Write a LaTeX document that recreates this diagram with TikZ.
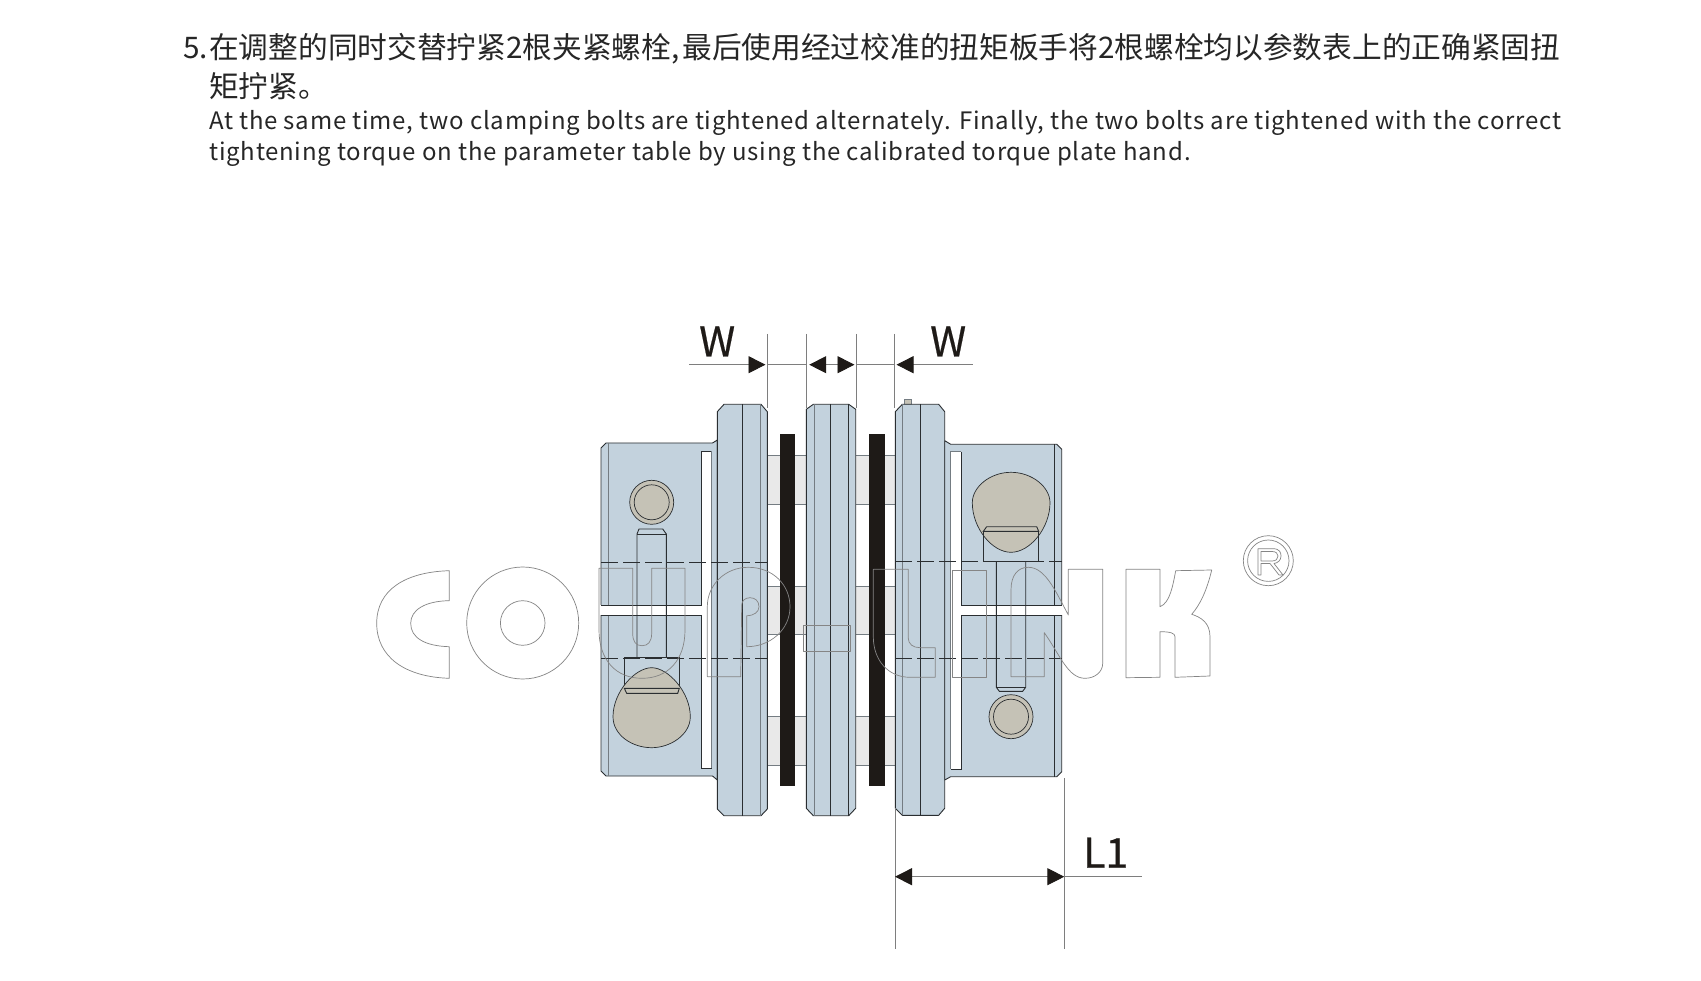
\documentclass[tikz,border=0pt]{standalone}
\usepackage{fontspec}
\setmainfont{Noto Sans CJK SC}
\newfontfamily\enfont[LetterSpace=3.2]{Noto Sans CJK SC}
\newfontfamily\dimfont[FakeBold=0.5]{Noto Sans CJK SC}
\usetikzlibrary{arrows.meta}
\definecolor{steelfill}{HTML}{C3D2DD}
\definecolor{boltfill}{HTML}{C5C2B6}
\definecolor{inkline}{HTML}{2A2E31}
\definecolor{midline}{HTML}{747C82}
\definecolor{diskfill}{HTML}{1E1A17}
\definecolor{barfill}{HTML}{E9E9E9}
\definecolor{markline}{HTML}{858585}
\definecolor{dimline}{HTML}{7E7E7E}
\tikzset{
  part/.style={fill=steelfill,draw=inkline,line width=.9pt,line join=round},
  ink/.style={draw=inkline,line width=.9pt},
  mid/.style={draw=midline,line width=1pt},
  slit/.style={fill=white,draw=none},
  bar/.style={fill=barfill,draw=none},
  baredge/.style={draw=midline,line width=1pt},
  disk/.style={fill=diskfill,draw=none},
  bolt/.style={fill=boltfill,draw=inkline,line width=.7pt},
  centre/.style={draw=inkline,line width=.8pt,dash pattern=on 17pt off 5pt},
  wm/.style={draw=markline,line width=.7pt,line join=round},
  dimln/.style={draw=dimline,line width=.9pt},
  dimarrow/.style={draw=dimline,line width=.9pt},
  tip/.tip={Triangle[length=17pt,width=17pt,color=diskfill]},
  cn/.style={anchor=base west,inner sep=0pt,text=black!85,font=\fontsize{29.7}{35}\selectfont},
  en/.style={anchor=base west,inner sep=0pt,text=black!85,font=\enfont\fontsize{24}{30}\selectfont},
  dimtext/.style={anchor=base west,inner sep=0pt,text=diskfill,font=\dimfont\fontsize{41}{48}\selectfont},
}
\begin{document}
\begin{tikzpicture}[x=1pt,y=-1pt]
\useasboundingbox (0,0) rectangle (1701,981);
\fill[white] (0,0) rectangle (1701,981);
% text
\node[cn] (num) at (183,59) {5.};
\node[cn] (l1) at (209,59) {在调整的同时交替拧紧2根夹紧螺栓,\hspace{3pt}最后使用经过校准的扭矩板手将2根螺栓均以参数表上的正确紧固扭};
\node[cn] (l2) at (209,98) {矩拧紧。};
\node[en] (l3) at (209,130) {At the same time, two clamping bolts are tightened alternately. Finally, the two bolts are tightened with the correct};
\node[en] (l4) at (209,161) {tightening torque on the parameter table by using the calibrated torque plate hand.};
% spacer bars
\foreach \xa/\xb in {767/806.5,855.7/895.3}{
  \foreach \ya/\yb in {455.3/504,586.3/634,716.7/765}{
    \fill[bar] (\xa,\ya) rectangle (\xb,\yb);
    \draw[baredge] (\xa,\ya) -- (\xb,\ya) (\xa,\yb) -- (\xb,\yb);
  }
}
% disks
\fill[disk] (780,434) rectangle (794.7,786.3);
\fill[disk] (869.3,434) rectangle (884.7,786.3);
% left hub
\draw[part] (601,448) -- (606,443) -- (712.5,443) -- (717.3,440) -- (717.3,780) -- (712.5,776) -- (606,776) -- (601,771) -- cycle;
\draw[mid] (608.3,443) -- (608.3,776);
\fill[slit] (701.7,451) rectangle (711.7,768);
\fill[slit] (600,605) rectangle (703,615);
\draw[ink] (701.7,605) -- (701.7,451) -- (711.7,451);
\draw[ink] (701.7,615) -- (701.7,768) -- (711.7,768);
\draw[mid,line width=.7pt] (711.7,451) -- (711.7,768);
\draw[ink] (601,605) -- (701.7,605) (601,615) -- (701.7,615);
% left flange
\draw[part] (717.3,411.7) -- (724,404.3) -- (761,404.3) -- (767.3,411.7) -- (767.3,809) -- (761,815.7) -- (724,815.7) -- (717.3,809) -- cycle;
\draw[ink] (742.3,404.3) -- (742.3,815.7);
\draw[mid] (760,404.3) -- (760,815.7);
% middle flange
\draw[part] (806.3,409.3) -- (813.3,404.3) -- (848.7,404.3) -- (855.7,409.3) -- (855.7,808.3) -- (848.7,815.7) -- (813.3,815.7) -- (806.3,808.3) -- cycle;
\draw[mid] (814,404.3) -- (814,815.7);
\draw[ink] (830.7,404.3) -- (830.7,815.7);
\draw[ink] (848.7,404.3) -- (848.7,815.7);
% right flange
\fill[boltfill,draw=midline,line width=.7pt] (904.7,399.3) rectangle (911.7,404.3);
\draw[part] (895.3,411.7) -- (902.3,404.3) -- (938.7,404.3) -- (944.7,411.7) -- (944.7,808.3) -- (938.7,815.3) -- (902.3,815.3) -- (895.3,808.3) -- cycle;
\draw[mid] (902.7,404.3) -- (902.7,815.3);
\draw[ink] (920.3,404.3) -- (920.3,815.3);
% right hub
\draw[part] (944.7,440.7) -- (950.7,444.3) -- (1056.7,444.3) -- (1061.7,449.3) -- (1061.7,771.7) -- (1056.7,776.7) -- (950.7,776.7) -- (944.7,780) -- cycle;
\draw[ink] (1054.7,444.3) -- (1054.7,776.7);
\fill[slit] (950.7,451.7) rectangle (961,769.3);
\fill[slit] (959,605) rectangle (1063,615);
\draw[mid] (950.7,769.3) -- (950.7,451.7) -- (961,451.7);
\draw[ink] (961,451.7) -- (961,605) -- (1061.7,605);
\draw[ink] (1061.7,615) -- (961,615) -- (961,769.3) -- (950.7,769.3);
% left bolt lower head and upper hole
\draw[bolt] (651.7,502.3) circle[radius=22];
\draw[bolt] (651.7,502.3) circle[radius=17.5];
\draw[ink] (637,657.7) -- (637,534) -- (639,529) -- (662.7,529) -- (666.3,534) -- (666.3,657.7);
\draw[ink] (637,534) -- (666.3,534);
\draw[ink] (624.3,657.7) rectangle (679.3,690);
\draw[bolt] (651.7,667.7) .. controls (668,667.7) and (690.3,692) .. (690.3,716.7) .. controls (690.3,735) and (670,747.7) .. (651.7,747.7) .. controls (632,747.7) and (613,735) .. (613,716.7) .. controls (613,692) and (635,667.7) .. (651.7,667.7) -- cycle;
\draw[ink] (624.3,688.3) -- (679.3,688.3) -- (677.7,693.3) -- (626.7,693.3) -- cycle;
% right bolt
\draw[bolt] (1011,716.7) circle[radius=22];
\draw[bolt] (1011,716.7) circle[radius=17.5];
\draw[ink] (996.3,561.3) -- (996.3,687.3) -- (999.3,691.3) -- (1022.7,691.3) -- (1025.7,687.3) -- (1025.7,561.3);
\draw[ink] (996.3,687.3) -- (1025.7,687.3);
\draw[ink] (983.3,529) rectangle (1038.7,561.3);
\draw[bolt] (1011,472.3) .. controls (1032,472.3) and (1050,487) .. (1050,502.7) .. controls (1050,528) and (1030,552.3) .. (1011,552.3) .. controls (992,552.3) and (972.3,528) .. (972.3,502.7) .. controls (972.3,487) and (990,472.3) .. (1011,472.3) -- cycle;
\draw[ink] (983.3,531.3) -- (1038.7,531.3) -- (1036.7,526.7) -- (986.7,526.7) -- cycle;
\draw[ink] (983.3,531.3) -- (983.3,561.3) -- (1038.7,561.3) -- (1038.7,531.3);
% centre lines
\draw[centre] (601,562) -- (767,562);
\draw[centre] (601,658.3) -- (767,658.3);
\draw[centre] (895,561.3) -- (1061.7,561.3);
\draw[centre] (895,658) -- (1061.7,658);
% watermark
\draw[wm] (449.3,570.7) .. controls (405,572) and (376.7,590) .. (376.7,623.3) .. controls (376.7,657) and (405,677) .. (449.3,678.3) -- (449.3,646.7) .. controls (425,646) and (410.7,638) .. (410.7,623.3) .. controls (410.7,610) and (425,601) .. (449.3,600.7) -- cycle;
\draw[wm] (522.7,623) circle[radius=56];
\draw[wm] (522.7,623) circle[radius=22.3];
\draw[wm] (599,568.3) -- (632.7,568.3) -- (632.7,633) .. controls (632.7,642) and (636,645.7) .. (642,645.7) .. controls (648,645.7) and (651.7,642) .. (651.7,633) -- (651.7,568.3) -- (685,568.3) -- (685,630) .. controls (685,660) and (668,678.3) .. (642,678.3) .. controls (616,678.3) and (599,660) .. (599,630) -- cycle;
\draw[wm] (707.3,676.7) -- (707.3,606.7) .. controls (707.3,585) and (725,567.3) .. (748.3,567.3) .. controls (773,567.3) and (790,585) .. (790,606.7) .. controls (790,630) and (770,646.7) .. (746.7,646.7) -- (746.7,615.7) .. controls (754,615.7) and (759,612) .. (759,606.7) .. controls (759,601) and (755,597.7) .. (750,597.7) .. controls (745,597.7) and (741.7,601) .. (741.7,605) -- (740.7,676.7) -- cycle;
\draw[wm] (803.7,625.3) rectangle (850,651.7);
\draw[wm] (873.3,569.3) -- (908.3,569.3) -- (908.3,638.3) .. controls (908.3,644) and (913,647.7) .. (920,647.7) -- (935.3,647.7) -- (935.3,677.3) -- (910,677.3) .. controls (888,677.3) and (873.3,660) .. (873.3,636.7) -- cycle;
\draw[wm] (952.3,570) rectangle (986.7,677.3);
\draw[wm] (1011,676.7) -- (1011,590) .. controls (1011,575) and (1018,567.3) .. (1028.3,567.3) .. controls (1045,567.3) and (1055,590) .. (1068.3,615) -- (1068.3,569.3) -- (1102.7,569.3) -- (1102.7,663.3) .. controls (1102.7,672) and (1095,678.3) .. (1085,678.3) .. controls (1068,678.3) and (1060,655) .. (1044.3,632.7) -- (1044.3,676.7) -- cycle;
\draw[wm] (1126,569.3) -- (1160,569.3) -- (1160,606.7) .. controls (1170,603) and (1173,585) .. (1175.7,570.7) -- (1211.7,570) .. controls (1207,590) and (1200,605) .. (1191.7,614.3) .. controls (1200,617) and (1210,622) .. (1210,636.7) -- (1210,676) -- (1175,677.3) -- (1175,636.7) .. controls (1175,633) and (1170,631.7) .. (1160,631.7) -- (1160,677.3) -- (1126,677.7) -- cycle;
\draw[wm] (1268.3,560.7) circle[radius=25];
\draw[wm] (1268.3,560.7) circle[radius=20.7];
\draw[wm,even odd rule] (1258,548.7) -- (1273,548.7) .. controls (1280,548.7) and (1281,553) .. (1281,556) .. controls (1281,560) and (1278,563) .. (1274,563.5) -- (1283,575) -- (1279,575) -- (1270,563.5) -- (1261,563.5) -- (1261,575) -- (1258,575) -- cycle (1261,551.5) -- (1272,551.5) .. controls (1276,551.5) and (1278,553.5) .. (1278,556) .. controls (1278,559) and (1276,561) .. (1272,561) -- (1261,561) -- cycle;
% dimensions
\coordinate (e1t) at (767,334); \coordinate (e1b) at (767,408);
\coordinate (e2t) at (806.7,334); \coordinate (e2b) at (806.7,408);
\coordinate (e3t) at (856,334); \coordinate (e3b) at (856,408);
\coordinate (e4t) at (894.5,334); \coordinate (e4b) at (894.5,408);
\coordinate (e1) at (767,364.7); \coordinate (e2) at (806.7,364.7);
\coordinate (e3) at (856,364.7); \coordinate (e4) at (894.5,364.7);
\coordinate (wl) at (689,364.7); \coordinate (wr) at (972.7,364.7);
\foreach \a/\b in {e1t/e1b,e2t/e2b,e3t/e3b,e4t/e4b}{\draw[dimln] (\a) -- (\b);}
\draw[dimarrow,-{tip},shorten >=1.5pt] (wl) -- (e1);
\draw[dimarrow] (e1) -- (e2) (e3) -- (e4);
\draw[dimarrow,{tip}-{tip},shorten <=2.5pt,shorten >=1.5pt] (e2) -- (e3);
\draw[dimarrow,-{tip},shorten >=2pt] (wr) -- (e4);
\node[dimtext] (wleft) at (699,356.5) {W};
\node[dimtext] (wright) at (930,356.5) {W};
\coordinate (l1t) at (895,808); \coordinate (l1b) at (895,949);
\coordinate (l2t) at (1064.3,778); \coordinate (l2b) at (1064.3,949);
\coordinate (d1) at (895,876.7); \coordinate (d2) at (1064.3,876.7); \coordinate (d3) at (1141.7,876.7);
\draw[dimln] (l1t) -- (l1b);
\draw[dimln] (l2t) -- (l2b);
\draw[dimarrow,{tip}-{tip}] (d1) -- (d2);
\draw[dimarrow] (d2) -- (d3);
\node[dimtext] (lone) at (1083,867.7) {L1};
\end{tikzpicture}
\end{document}
